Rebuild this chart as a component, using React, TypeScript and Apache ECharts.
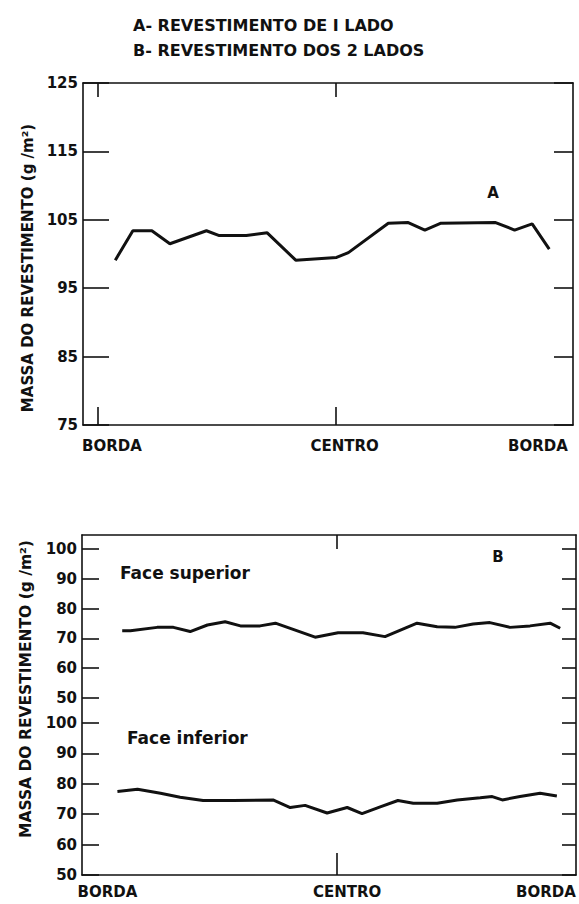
import React, { useEffect, useRef } from "react";
import * as echarts from "echarts";

// ---------- data ----------
// Panel A: position across the strip (0 = borda, 50 = centro, 100 = borda)
const A_POS = [3.6, 7.3, 11.3, 15.1, 22.8, 25.5, 31.2, 35.6, 41.6, 50.2, 52.7, 61.1, 65.3, 68.8, 72.2, 83.7, 87.7, 91.4, 95.0];
const A_MASS = [99.1, 103.4, 103.4, 101.5, 103.4, 102.7, 102.7, 103.1, 99.1, 99.5, 100.2, 104.5, 104.6, 103.5, 104.5, 104.6, 103.5, 104.4, 100.7];

// Panel B: face superior
const SUP_POS = [5.2, 6.9, 12.5, 15.9, 19.4, 23.0, 26.7, 29.9, 34.0, 37.2, 45.5, 50.3, 55.5, 60.1, 66.8, 71.0, 74.7, 78.5, 82.0, 86.2, 90.4, 94.6, 96.7];
const SUP_MASS = [72.6, 72.6, 73.7, 73.7, 72.3, 74.5, 75.6, 74.2, 74.2, 75.1, 70.4, 71.9, 71.9, 70.6, 75.1, 73.9, 73.7, 74.8, 75.3, 73.7, 74.2, 75.1, 73.4];

// Panel B: face inferior
const INF_POS = [4.2, 8.4, 13.2, 17.3, 22.1, 28.4, 36.7, 40.3, 43.4, 48.0, 52.2, 55.3, 59.1, 62.8, 66.0, 71.0, 75.2, 80.0, 82.5, 84.6, 88.3, 92.5, 96.0];
const INF_MASS = [77.5, 78.2, 76.9, 75.6, 74.5, 74.5, 74.7, 72.2, 72.9, 70.4, 72.2, 70.2, 72.4, 74.5, 73.6, 73.6, 74.7, 75.4, 75.8, 74.7, 75.8, 76.9, 76.0];

const X_TICK_LABELS = ["BORDA", "CENTRO", "BORDA"];
const TITLE_LINES = ["A- REVESTIMENTO DE I LADO", "B- REVESTIMENTO DOS 2 LADOS"];
const Y_NAME = "MASSA DO REVESTIMENTO (g /m²)";
const A_RANGE = [75, 125];
const B_RANGE = [50, 100];

// ---------- style ----------
const INK = "#111111";
const FONT = "DejaVu Sans";
const XMIN = -3.2;

const zip = (xs: number[], ys: number[]) => xs.map((x, i) => [x, ys[i]]);
const xLabel = (v: number) => (v < 25 ? X_TICK_LABELS[0] : v < 75 ? X_TICK_LABELS[1] : X_TICK_LABELS[2]);

const lineStyle = { color: INK, width: 1.6 };
const axisLineOn = { show: true, onZero: false, lineStyle };
const axisLineOff = { show: false, onZero: false };
const labelFont = { fontFamily: FONT, fontWeight: "bold" as const, color: INK };

export default function App() {
  const ref = useRef<HTMLDivElement>(null);

  useEffect(() => {
    if (!ref.current) return;
    const chart = echarts.init(ref.current, null, { renderer: "svg" });

    const hiddenX = (gridIndex: number) => ({
      gridIndex, type: "value", min: XMIN, max: 100, show: false,
      axisLine: axisLineOff,
    });

    const option: any = {
      animation: false,
      backgroundColor: "#ffffff",
      title: {
        text: TITLE_LINES.join("\n"),
        left: 128,
        top: 8,
        textStyle: { ...labelFont, fontSize: 16, lineHeight: 25 },
      },
      grid: [
        { left: 83, top: 83, width: 490, height: 342 },
        { left: 82, top: 535, width: 494, height: 340 },
        { left: 82, top: 549, width: 494, height: 149 },
        { left: 82, top: 723, width: 494, height: 152 },
      ],
      xAxis: [
        {
          gridIndex: 0, type: "value", min: XMIN, max: 100, position: "bottom",
          axisLine: axisLineOn,
          splitLine: { show: false },
          axisTick: { show: true, inside: true, length: 18, customValues: [0, 50], lineStyle },
          axisLabel: {
            customValues: [2.9, 51.9, 92.6], formatter: xLabel, margin: 13,
            ...labelFont, fontSize: 15,
          },
        },
        {
          gridIndex: 0, type: "value", min: XMIN, max: 100, position: "top",
          axisLine: axisLineOn,
          splitLine: { show: false },
          axisTick: { show: true, inside: true, length: 14, customValues: [0, 50], lineStyle },
          axisLabel: { show: false },
        },
        {
          gridIndex: 1, type: "value", min: XMIN, max: 100, position: "bottom",
          axisLine: axisLineOn,
          splitLine: { show: false },
          axisTick: { show: true, inside: true, length: 22, customValues: [50], lineStyle },
          axisLabel: {
            customValues: [2.1, 52.2, 93.7], formatter: xLabel, margin: 9,
            ...labelFont, fontSize: 15,
          },
        },
        {
          gridIndex: 1, type: "value", min: XMIN, max: 100, position: "top",
          axisLine: axisLineOn,
          splitLine: { show: false },
          axisTick: { show: true, inside: true, length: 14, customValues: [50], lineStyle },
          axisLabel: { show: false },
        },
        hiddenX(2),
        hiddenX(3),
      ],
      yAxis: [
        {
          gridIndex: 0, type: "value", min: A_RANGE[0], max: A_RANGE[1], interval: 10, position: "left",
          axisLine: axisLineOn,
          splitLine: { show: false },
          axisTick: { show: true, inside: true, length: 26, lineStyle },
          axisLabel: { margin: 5, ...labelFont, fontSize: 15 },
          name: Y_NAME, nameLocation: "middle", nameGap: 44,
          nameTextStyle: { ...labelFont, fontSize: 15, padding: [0, 28, 0, 0] },
        },
        {
          gridIndex: 0, type: "value", min: A_RANGE[0], max: A_RANGE[1], interval: 10, position: "right",
          axisLine: axisLineOn,
          splitLine: { show: false },
          axisTick: { show: true, inside: true, length: 19, lineStyle },
          axisLabel: { show: false },
        },
        {
          gridIndex: 1, type: "value", min: 0, max: 1, position: "left",
          axisLine: axisLineOn,
          splitLine: { show: false },
          axisTick: { show: false },
          axisLabel: { show: false },
          name: Y_NAME, nameLocation: "middle", nameGap: 48,
          nameTextStyle: { ...labelFont, fontSize: 15.5, padding: [0, 0, 0, 32] },
        },
        {
          gridIndex: 1, type: "value", min: 0, max: 1, position: "right",
          axisLine: axisLineOn,
          splitLine: { show: false },
          axisTick: { show: false },
          axisLabel: { show: false },
        },
        {
          gridIndex: 2, type: "value", min: B_RANGE[0], max: B_RANGE[1], interval: 10, position: "left",
          axisLine: axisLineOff,
          splitLine: { show: false },
          axisTick: { show: true, inside: true, length: 17, lineStyle },
          axisLabel: { margin: 5, ...labelFont, fontSize: 15 },
        },
        {
          gridIndex: 2, type: "value", min: B_RANGE[0], max: B_RANGE[1], interval: 10, position: "right",
          axisLine: axisLineOff,
          splitLine: { show: false },
          axisTick: { show: true, inside: true, length: 14, lineStyle },
          axisLabel: { show: false },
        },
        {
          gridIndex: 3, type: "value", min: B_RANGE[0], max: B_RANGE[1], interval: 10, position: "left",
          axisLine: axisLineOff,
          splitLine: { show: false },
          axisTick: { show: true, inside: true, length: 17, lineStyle },
          axisLabel: { margin: 5, ...labelFont, fontSize: 15 },
        },
        {
          gridIndex: 3, type: "value", min: B_RANGE[0], max: B_RANGE[1], interval: 10, position: "right",
          axisLine: axisLineOff,
          splitLine: { show: false },
          axisTick: { show: true, inside: true, length: 14, lineStyle },
          axisLabel: { show: false },
        },
      ],
      series: [
        {
          name: "A", type: "line", xAxisIndex: 0, yAxisIndex: 0,
          data: zip(A_POS, A_MASS), showSymbol: false,
          lineStyle: { color: INK, width: 3 },
        },
        {
          name: "Face superior", type: "line", xAxisIndex: 4, yAxisIndex: 4,
          data: zip(SUP_POS, SUP_MASS), showSymbol: false,
          lineStyle: { color: INK, width: 3 },
        },
        {
          name: "Face inferior", type: "line", xAxisIndex: 5, yAxisIndex: 6,
          data: zip(INF_POS, INF_MASS), showSymbol: false,
          lineStyle: { color: INK, width: 3 },
        },
      ],
      graphic: [
        { type: "text", x: 493, y: 193, style: { text: "A", fontFamily: FONT, fontWeight: "bold", fontSize: 15, fill: INK, align: "center", verticalAlign: "middle" } },
        { type: "text", x: 498, y: 557, style: { text: "B", fontFamily: FONT, fontWeight: "bold", fontSize: 15, fill: INK, align: "center", verticalAlign: "middle" } },
        { type: "text", x: 120, y: 573, style: { text: "Face superior", fontFamily: FONT, fontWeight: "bold", fontSize: 17, fill: INK, align: "left", verticalAlign: "middle" } },
        { type: "text", x: 127, y: 738, style: { text: "Face inferior", fontFamily: FONT, fontWeight: "bold", fontSize: 17, fill: INK, align: "left", verticalAlign: "middle" } },
      ],
    };

    chart.setOption(option);
    return () => chart.dispose();
  }, []);

  return (
    <div
      ref={ref}
      style={{ position: "absolute", left: 0, top: 0, width: 579, height: 904, background: "#fff" }}
    />
  );
}
